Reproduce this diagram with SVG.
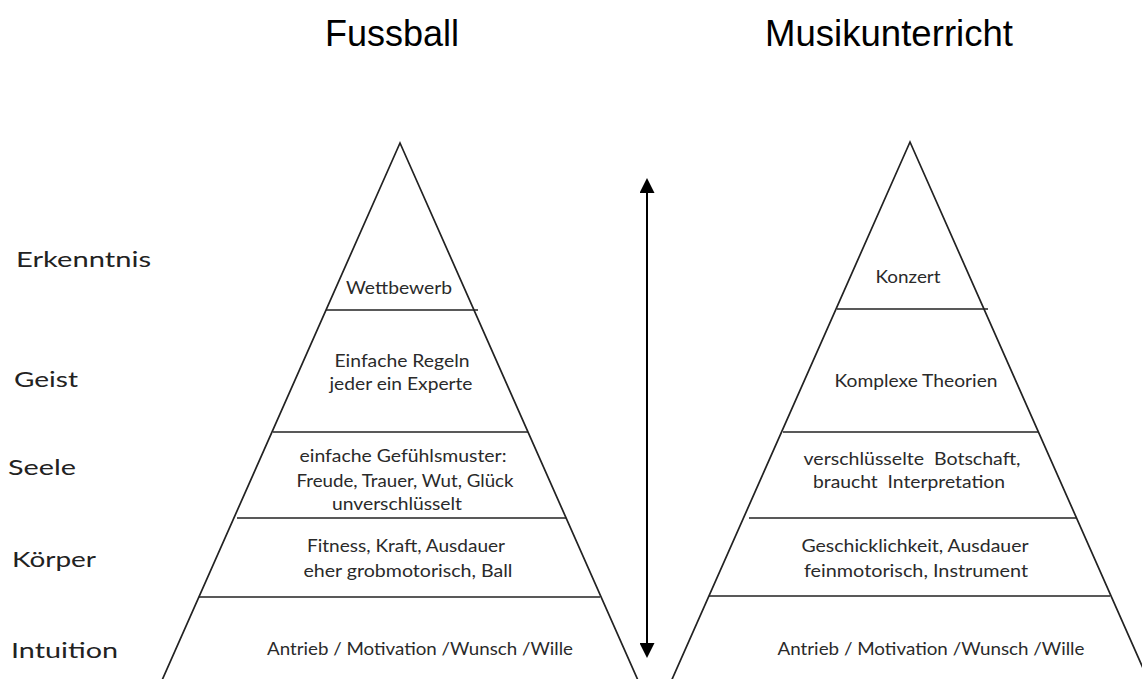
<svg xmlns="http://www.w3.org/2000/svg" width="1142" height="679" viewBox="0 0 1142 679">
<style>
.title{font-family:"Liberation Sans",Arial,sans-serif;font-size:36px;fill:#000;text-anchor:middle}
.lvl{font-family:Lato,"Open Sans",sans-serif;font-size:22px;fill:#222}
.t{font-family:Lato,"Open Sans",sans-serif;font-size:17px;fill:#2a2a2a;text-anchor:middle}
.edge{fill:none;stroke:#222;stroke-width:1.7}
.div{stroke:#222;stroke-width:1.7}
.arrow{stroke:#000;stroke-width:2;fill:none}
</style>
<defs>
<marker id="ah" viewBox="0 0 10 10" refX="0" refY="5" markerWidth="15" markerHeight="15" markerUnits="userSpaceOnUse" orient="auto-start-reverse">
<path d="M0,0 L10,5 L0,10 z" fill="#000"/>
</marker>
</defs>
<rect width="1142" height="679" fill="#fff"/>

<g id="titles">
<text class="title" x="392" y="46" textLength="134" lengthAdjust="spacingAndGlyphs">Fussball</text>
<text class="title" x="889" y="46" textLength="248" lengthAdjust="spacingAndGlyphs">Musikunterricht</text>
</g>

<g id="levels">
<text class="lvl" x="16" y="267" textLength="135" lengthAdjust="spacingAndGlyphs">Erkenntnis</text>
<text class="lvl" x="14" y="387" textLength="64" lengthAdjust="spacingAndGlyphs">Geist</text>
<text class="lvl" x="8" y="475" textLength="68" lengthAdjust="spacingAndGlyphs">Seele</text>
<text class="lvl" x="12" y="567" textLength="84" lengthAdjust="spacingAndGlyphs">Körper</text>
<text class="lvl" x="11" y="658" textLength="107" lengthAdjust="spacingAndGlyphs">Intuition</text>
</g>

<g id="pyramid-fussball">
<polyline class="edge" points="157.7,690 400,143 642.3,690"/>
<line class="div" x1="326" y1="310" x2="478" y2="310"/>
<line class="div" x1="273" y1="432" x2="528" y2="432"/>
<line class="div" x1="237" y1="518" x2="566" y2="518"/>
<line class="div" x1="199" y1="597" x2="600" y2="597"/>
<text class="t" x="399" y="294" textLength="106" lengthAdjust="spacingAndGlyphs">Wettbewerb</text>
<text class="t" x="402" y="367" textLength="135" lengthAdjust="spacingAndGlyphs">Einfache Regeln</text>
<text class="t" x="401" y="390" textLength="143" lengthAdjust="spacingAndGlyphs">jeder ein Experte</text>
<text class="t" x="403" y="462" textLength="207" lengthAdjust="spacingAndGlyphs">einfache Gefühlsmuster:</text>
<text class="t" x="405" y="487" textLength="217" lengthAdjust="spacingAndGlyphs">Freude, Trauer, Wut, Glück</text>
<text class="t" x="397" y="510" textLength="130" lengthAdjust="spacingAndGlyphs">unverschlüsselt</text>
<text class="t" x="406" y="552" textLength="198" lengthAdjust="spacingAndGlyphs">Fitness, Kraft, Ausdauer</text>
<text class="t" x="408" y="577" textLength="209" lengthAdjust="spacingAndGlyphs">eher grobmotorisch, Ball</text>
<text class="t" x="420" y="655" textLength="306" lengthAdjust="spacingAndGlyphs">Antrieb / Motivation /Wunsch /Wille</text>
</g>

<g id="pyramid-musik">
<polyline class="edge" points="667.3,690 910,142 1152.7,690"/>
<line class="div" x1="837" y1="309" x2="988" y2="309"/>
<line class="div" x1="783" y1="432" x2="1038" y2="432"/>
<line class="div" x1="749" y1="518" x2="1077" y2="518"/>
<line class="div" x1="709" y1="596" x2="1110" y2="596"/>
<text class="t" x="908" y="283" textLength="65" lengthAdjust="spacingAndGlyphs">Konzert</text>
<text class="t" x="916" y="387" textLength="163" lengthAdjust="spacingAndGlyphs">Komplexe Theorien</text>
<text class="t" x="912" y="465" textLength="217" lengthAdjust="spacingAndGlyphs" xml:space="preserve">verschlüsselte  Botschaft,</text>
<text class="t" x="909" y="488" textLength="192" lengthAdjust="spacingAndGlyphs" xml:space="preserve">braucht  Interpretation</text>
<text class="t" x="915" y="552" textLength="227" lengthAdjust="spacingAndGlyphs">Geschicklichkeit, Ausdauer</text>
<text class="t" x="916" y="577" textLength="224" lengthAdjust="spacingAndGlyphs">feinmotorisch, Instrument</text>
<text class="t" x="931" y="655" textLength="307" lengthAdjust="spacingAndGlyphs">Antrieb / Motivation /Wunsch /Wille</text>
</g>

<g id="connectors">
<line class="arrow" x1="647" y1="193" x2="647" y2="643" marker-start="url(#ah)" marker-end="url(#ah)"/>
</g>
</svg>
